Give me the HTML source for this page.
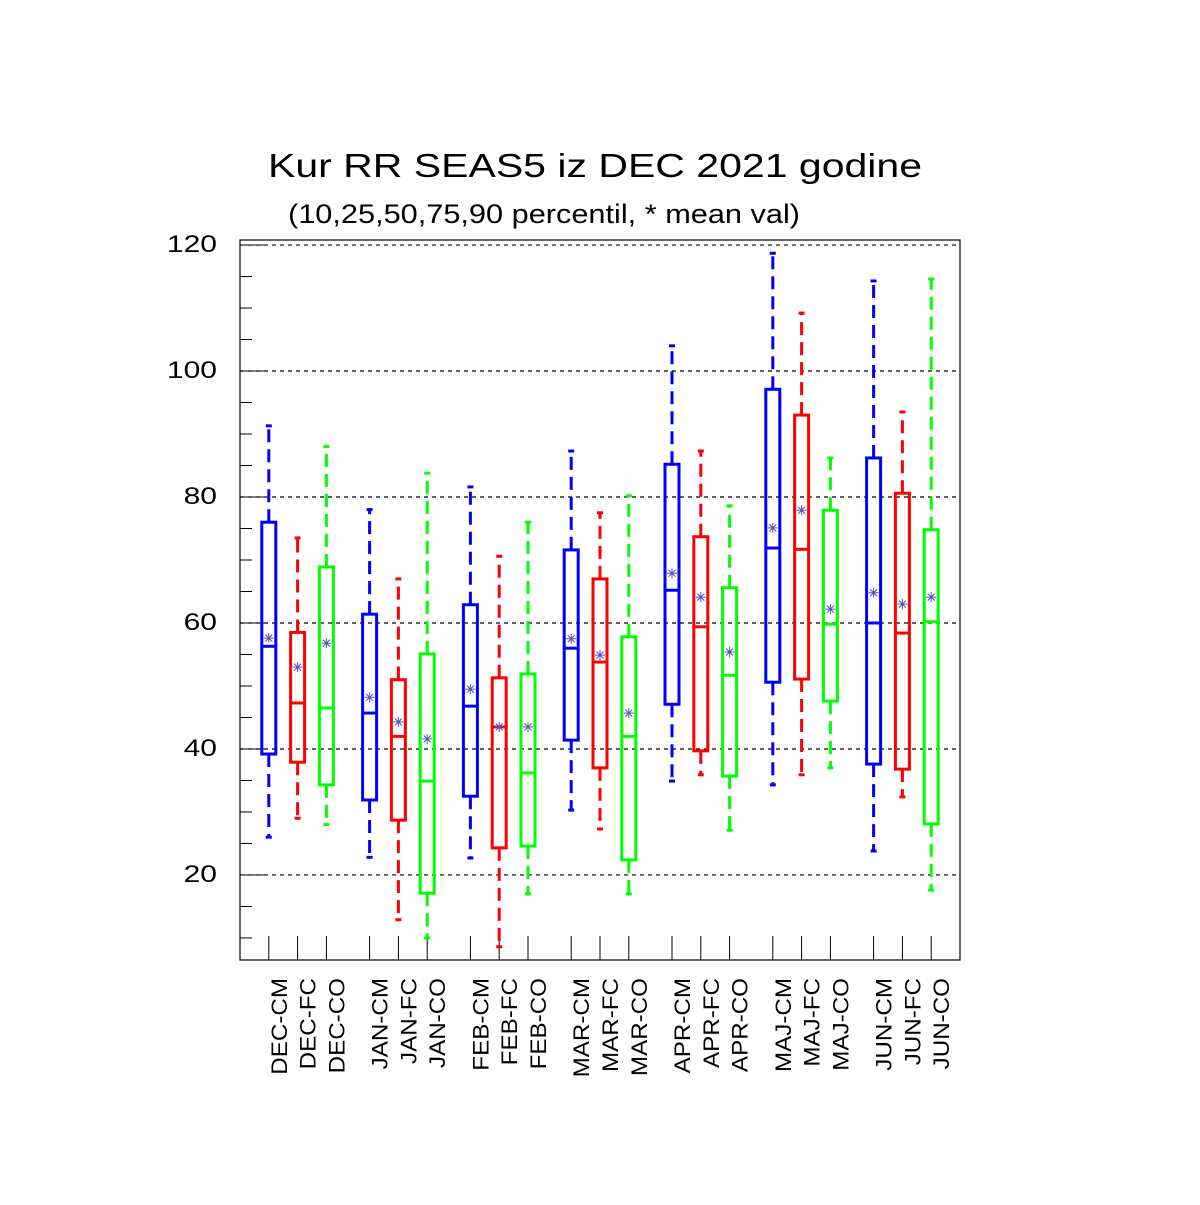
<!DOCTYPE html>
<html><head><meta charset="utf-8"><style>
body{margin:0;background:#fff;}
svg text{font-family:"Liberation Sans",sans-serif;}
</style></head><body>
<svg id="chart" width="1200" height="1200" viewBox="0 0 1200 1200" xmlns="http://www.w3.org/2000/svg">
<text x="268" y="177" font-size="33" textLength="654" lengthAdjust="spacingAndGlyphs">Kur RR SEAS5 iz DEC 2021 godine</text>
<text x="288" y="223" font-size="27" textLength="512" lengthAdjust="spacingAndGlyphs">(10,25,50,75,90 percentil, * mean val)</text>
<g id="grid"></g>
<g id="axes"></g>
<g id="boxes"></g>
</svg>
<script>
const categories=["DEC-CM","DEC-FC","DEC-CO","JAN-CM","JAN-FC","JAN-CO","FEB-CM","FEB-FC","FEB-CO","MAR-CM","MAR-FC","MAR-CO","APR-CM","APR-FC","APR-CO","MAJ-CM","MAJ-FC","MAJ-CO","JUN-CM","JUN-FC","JUN-CO"];
const p10=[26,29,28,22.8,12.9,10,22.7,8.6,17,30.3,27.3,17,34.9,35.9,27.1,34.3,35.9,37,23.8,32.4,17.6];
const p25=[39.2,37.9,34.3,31.9,28.7,17.1,32.5,24.3,24.6,41.4,37,22.4,47.1,39.7,35.7,50.6,51.1,47.6,37.6,36.8,28.1];
const p50=[56.3,47.3,46.5,45.7,42,34.9,46.8,43.5,36.2,56,53.8,42,65.2,59.4,51.7,71.9,71.7,59.8,60,58.4,60.2];
const p75=[76,58.5,68.9,61.4,51,55.1,62.9,51.3,51.9,71.6,67,57.8,85.2,73.7,65.6,97.1,93,77.9,86.2,80.6,74.8];
const p90=[91.3,73.5,88,78,67,83.8,81.6,70.6,76,87.3,77.5,80.2,104,87.3,78.6,118.7,109.2,86.2,114.3,93.5,114.6];
const means=[57.6,53,56.8,48.2,44.3,41.6,49.5,43.5,43.5,57.5,54.9,45.7,67.9,64.1,55.4,75.1,77.9,62.2,64.8,63,64.1];
const yTicks=[20,40,60,80,100,120];
const colors=["#0000ff","#ff0000","#00ff00"];
const NS="http://www.w3.org/2000/svg";
const L=240,R=960,T=240,B=960,yMin=6.5,yMax=120.8,xMax=25;
function ys(v){return B-(v-yMin)/(yMax-yMin)*(B-T);}
function xs(i){const g=Math.floor(i/3),k=i%3;return L+(1+g*3.5+k)*(R-L)/xMax;}
function mk(tag,at,parent){const e=document.createElementNS(NS,tag);for(const k in at)e.setAttribute(k,at[k]);parent.appendChild(e);return e;}
const grid=document.getElementById('grid'),axes=document.getElementById('axes'),boxes=document.getElementById('boxes');
yTicks.forEach(t=>{
 const gl=mk('line',{x1:L,x2:R,y1:ys(t),y2:ys(t),stroke:'#000','stroke-width':1.2,'stroke-dasharray':'4,4'},grid);
 
 
 const s=String(t);
 const tl=mk('text',{x:217-(s.length*16.7),y:ys(t)+7,'font-size':24,textLength:s.length*16.7,lengthAdjust:'spacingAndGlyphs'},axes);tl.textContent=s;
 
 
});
mk('rect',{x:L,y:T,width:R-L,height:B-T,fill:'none',stroke:'#000','stroke-width':1.2},axes);
for(let v=10;v<=120;v+=5){const major=v%20===0;mk('line',{x1:L,x2:L+(major?25:12),y1:ys(v),y2:ys(v),stroke:'#000','stroke-width':1},axes);}
categories.forEach((c,i)=>{
 const x=xs(i),col=colors[i%3],w=14;
 mk('line',{x1:x,x2:x,y1:B,y2:B-24,stroke:'#000','stroke-width':1},axes);
 const lb=mk('text',{x:0,y:0,'font-size':22,'text-anchor':'end',transform:`translate(${x+18},978) rotate(-90) scale(1.1,1)`},axes);lb.textContent=c;
 
 
 const g=mk('g',{},boxes);
 
 
 const dash={stroke:col,'stroke-width':3,'stroke-dasharray':'13,7'};
 mk('line',Object.assign({x1:x,x2:x,y1:ys(p75[i]),y2:ys(p90[i])},dash),g);
 mk('line',Object.assign({x1:x,x2:x,y1:ys(p25[i]),y2:ys(p10[i])},dash),g);
 mk('line',{x1:x-3,x2:x+3,y1:ys(p90[i]),y2:ys(p90[i]),stroke:col,'stroke-width':3},g);
 mk('line',{x1:x-3,x2:x+3,y1:ys(p10[i]),y2:ys(p10[i]),stroke:col,'stroke-width':3},g);
 mk('rect',{x:x-w/2,y:ys(p75[i]),width:w,height:ys(p25[i])-ys(p75[i]),fill:'none',stroke:col,'stroke-width':3},g);
 mk('line',{x1:x-w/2,x2:x+w/2,y1:ys(p50[i]),y2:ys(p50[i]),stroke:col,'stroke-width':3},g);
 const my=ys(means[i]),s=5;
 const st={stroke:'#5050c0','stroke-width':1};
 mk('line',Object.assign({x1:x-s,x2:x+s,y1:my,y2:my},st),g);
 mk('line',Object.assign({x1:x,x2:x,y1:my-s,y2:my+s},st),g);
 mk('line',Object.assign({x1:x-s*0.7,x2:x+s*0.7,y1:my-s*0.7,y2:my+s*0.7},st),g);
 mk('line',Object.assign({x1:x-s*0.7,x2:x+s*0.7,y1:my+s*0.7,y2:my-s*0.7},st),g);
});
</script>
</body></html>
